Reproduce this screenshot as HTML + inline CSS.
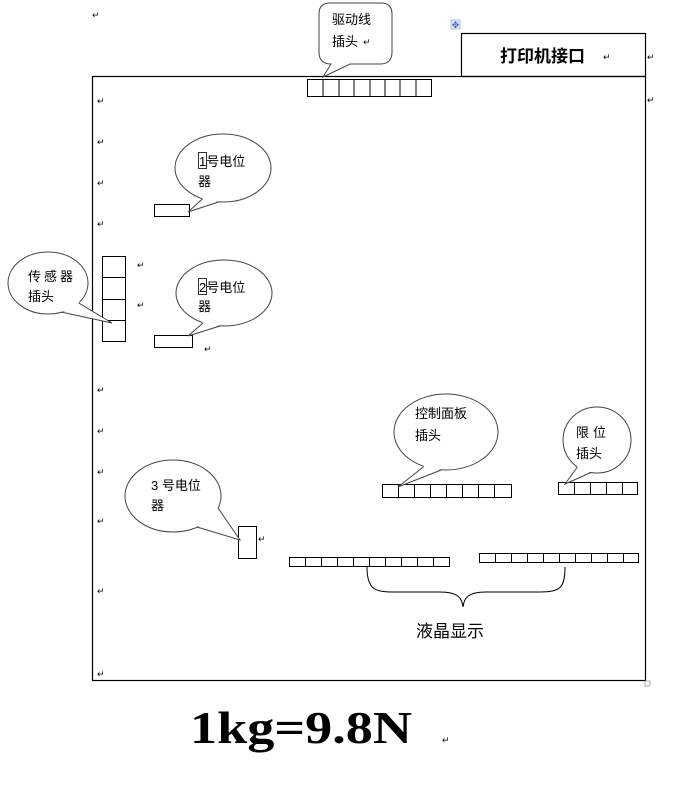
<!DOCTYPE html>
<html><head><meta charset="utf-8"><style>
html,body{margin:0;padding:0;background:#fff;}
svg{display:block;}
text{font-family:"Liberation Sans","Noto Sans CJK SC",sans-serif;fill:#000;}
.r{fill:#888;font-size:9px;}
</style></head><body>
<svg width="674" height="786" viewBox="0 0 674 786" xmlns="http://www.w3.org/2000/svg">
<g fill="none" stroke="#000" stroke-width="1.2">
<rect x="92.5" y="76.5" width="553" height="604"/>
<rect x="461.5" y="33.5" width="184" height="43"/>
</g>
<rect x="645" y="681" width="5" height="5" fill="none" stroke="#999" stroke-width="0.8"/>
<rect x="451" y="20" width="9" height="9" fill="#dde6f4" stroke="#8aa" stroke-width="0.6"/>
<text x="455.5" y="28" font-size="9" text-anchor="middle" style="fill:#36c">✥</text>
<text x="500" y="62" font-size="17" font-weight="bold">打印机接口</text>

<g fill="#fff" stroke="#000" stroke-width="1">
<rect x="307.5" y="79.5" width="124" height="17"/>
<rect x="102.5" y="256.5" width="23" height="85"/>
<rect x="154.5" y="204.5" width="35" height="12"/>
<rect x="154.5" y="335.5" width="38" height="12"/>
<rect x="238.5" y="526.5" width="18" height="32"/>
<rect x="382.5" y="484.5" width="129" height="13"/>
<rect x="558.5" y="482.5" width="79" height="12"/>
<rect x="289.5" y="557.5" width="160" height="9"/>
<rect x="479.5" y="553.5" width="159" height="9"/>
</g>
<g stroke="#000" stroke-width="1">
<path d="M323 80v17M339 80v17M354 80v17M370 80v17M385 80v17M400 80v17M416 80v17"/>
<path d="M102 277.5h23M102 299.5h23M102 320.5h23"/>
<path d="M398.5 485v13M414.5 485v13M430.5 485v13M446.5 485v13M462.5 485v13M478.5 485v13M494.5 485v13"/>
<path d="M574.5 483v12M590.5 483v12M606.5 483v12M622.5 483v12"/>
<path d="M305.5 558v9M321.5 558v9M337.5 558v9M353.5 558v9M369.5 558v9M385.5 558v9M401.5 558v9M417.5 558v9M433.5 558v9"/>
<path d="M495.5 554v9M511.5 554v9M527.5 554v9M543.5 554v9M559.5 554v9M575.5 554v9M591.5 554v9M607.5 554v9M623.5 554v9"/>
</g>
<path d="M367 567 C367 590 375 592 395 592 L440 592 C458 592 462 598 463 607 C464 598 468 592 486 592 L540 592 C560 592 565 588 565 567" fill="none" stroke="#000" stroke-width="1"/>

<path d="M331 64 L323 77 L350 64 L380 64 Q392 64 392 52 L392 14 Q392 3 381 3 L330 3 Q319 3 319 14 L319 52 Q319 64 331 64 Z" fill="#fff" stroke="#444" stroke-width="1"/>

<g fill="#fff" stroke="#444" stroke-width="1">
<ellipse cx="223" cy="168" rx="48" ry="34"/>
<ellipse cx="224" cy="293" rx="48" ry="33"/>
<ellipse cx="48" cy="283" rx="40" ry="31"/>
<ellipse cx="173" cy="496" rx="48" ry="36"/>
<ellipse cx="446" cy="432" rx="52" ry="38"/>
<ellipse cx="597" cy="440" rx="34" ry="33"/>
</g>
<g fill="#fff" stroke="none">
<polygon points="202.7,197.8 188,212 218.8,200.9"/>
<polygon points="203,322 188,336 220,325"/>
<polygon points="78,301.5 112,323 61.5,311"/>
<polygon points="217.5,507 240,540 197,526"/>
<polygon points="424,465.4 398,487 441.5,468.9"/>
<polygon points="577.5,466 565,484 591,471.5"/>
</g>
<g fill="none" stroke="#444" stroke-width="1">
<polyline points="202.7,198.8 188,212 218.8,201.9"/>
<polyline points="203,323 188,336 220,326"/>
<polyline points="78.6,302.9 112,323 61.7,312.1"/>
<polyline points="218,508 240,540 197,527"/>
<polyline points="424,466.4 398,487 441.5,469.9"/>
<polyline points="577.5,467 565,484 591,472.5"/>
</g>
<g font-size="13">
<text x="332" y="24">驱动线</text><text x="332" y="46">插头</text>
<rect x="198.5" y="152.5" width="8" height="16" fill="none" stroke="#000" stroke-width="0.8"/>
<text x="199" y="166">1号电位</text><text x="198" y="186">器</text>
<rect x="198.5" y="278.5" width="8" height="16" fill="none" stroke="#000" stroke-width="0.8"/>
<text x="199" y="292">2号电位</text><text x="198" y="311">器</text>
<text x="28" y="281" letter-spacing="3">传感器</text><text x="28" y="301">插头</text>
<text x="151" y="490">3 号电位</text><text x="151" y="510">器</text>
<text x="415" y="418">控制面板</text><text x="415" y="440">插头</text>
<text x="576" y="437" letter-spacing="4">限位</text><text x="576" y="458">插头</text>
</g>
<text x="416" y="637" font-size="17">液晶显示</text>
<text x="190" y="743" font-size="46" font-weight="bold" textLength="222" lengthAdjust="spacingAndGlyphs" style='font-family:"Liberation Serif",serif'>1kg=9.8N</text>

<g class="r">
<text x="92" y="18">↵</text><text x="97" y="104">↵</text><text x="97" y="145">↵</text><text x="97" y="186">↵</text><text x="97" y="227">↵</text>
<text x="97" y="393">↵</text><text x="97" y="434">↵</text><text x="97" y="475">↵</text><text x="97" y="524">↵</text><text x="97" y="594">↵</text><text x="97" y="677">↵</text>
<text x="647" y="60">↵</text><text x="647" y="103">↵</text><text x="137" y="268">↵</text><text x="137" y="308">↵</text><text x="204" y="352">↵</text>
<text x="258" y="542">↵</text><text x="442" y="743">↵</text><text x="363" y="45">↵</text><text x="603" y="60">↵</text>
</g>
</svg>
</body></html>
